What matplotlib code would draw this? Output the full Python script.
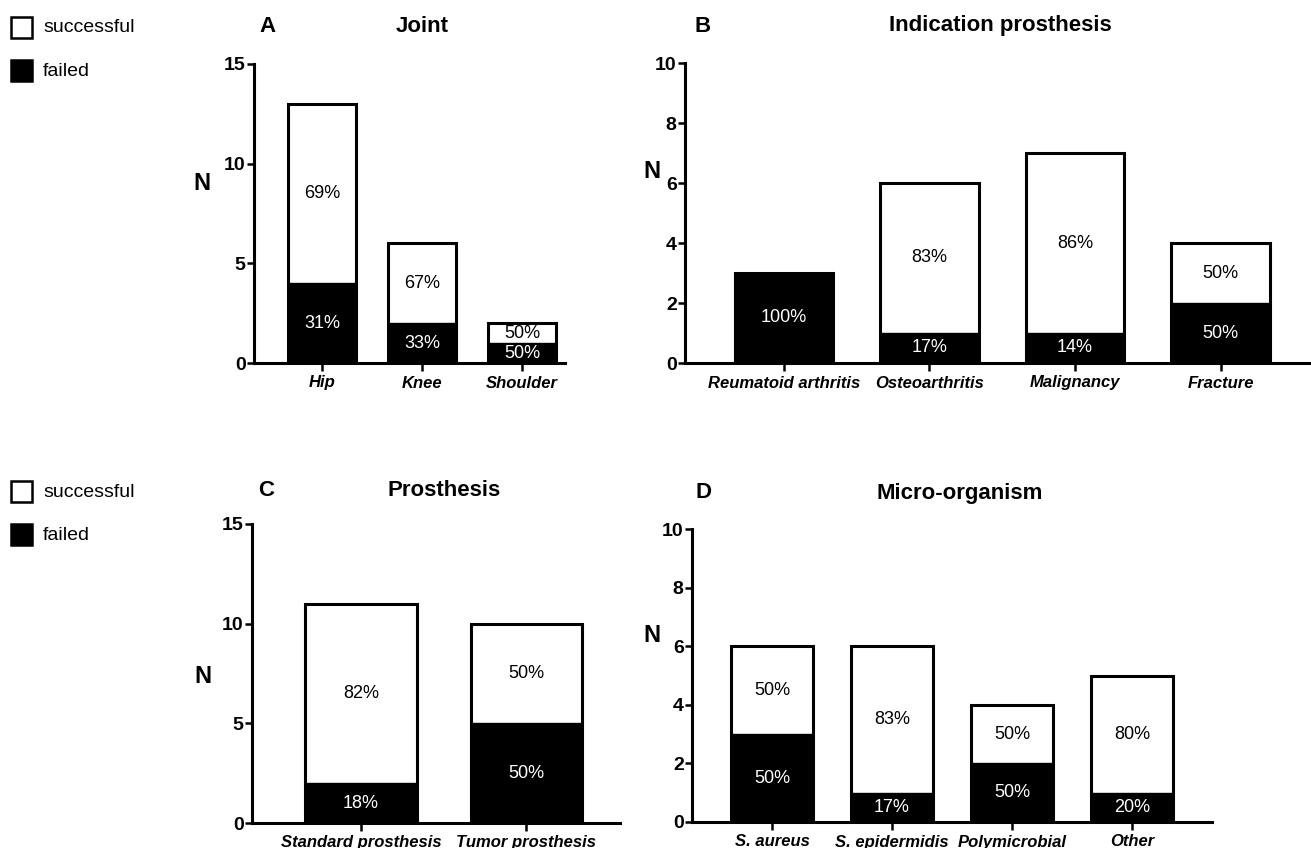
import matplotlib
matplotlib.use("Agg")
import matplotlib.pyplot as plt
from matplotlib.patches import Rectangle

plt.rcParams['font.family'] = ['Liberation Sans', 'DejaVu Sans']

W, H = 1311, 848

# A - Joint
joint_cats = ['Hip', 'Knee', 'Shoulder']
joint_total = [13, 6, 2]
joint_failed = [4, 2, 1]
joint_succ_pct = ['69%', '67%', '50%']
joint_fail_pct = ['31%', '33%', '50%']

# B - Indication prosthesis
ind_cats = ['Reumatoid arthritis', 'Osteoarthritis', 'Malignancy', 'Fracture']
ind_total = [3, 6, 7, 4]
ind_failed = [3, 1, 1, 2]
ind_succ_pct = ['', '83%', '86%', '50%']
ind_fail_pct = ['100%', '17%', '14%', '50%']

# C - Prosthesis
pros_cats = ['Standard prosthesis', 'Tumor prosthesis']
pros_total = [11, 10]
pros_failed = [2, 5]
pros_succ_pct = ['82%', '50%']
pros_fail_pct = ['18%', '50%']

# D - Micro-organism
micro_cats = ['S. aureus', 'S. epidermidis', 'Polymicrobial', 'Other']
micro_total = [6, 6, 4, 5]
micro_failed = [3, 1, 2, 1]
micro_succ_pct = ['50%', '83%', '50%', '80%']
micro_fail_pct = ['50%', '17%', '50%', '20%']


def px_axes(fig, x0, x1, y0, y1):
    # pixel box -> figure fraction
    return fig.add_axes([x0 / W, 1 - y1 / H, (x1 - x0) / W, (y1 - y0) / H])


def panel(ax, cats, total, failed, succ_pct, fail_pct, ymax, ystep, xlim, width, nxy):
    x = list(range(len(cats)))
    ax.bar(x, total, width=width, color='white', edgecolor='black', linewidth=2.2, zorder=2)
    ax.bar(x, failed, width=width, color='black', edgecolor='black', linewidth=1.0, zorder=3)
    for i in x:
        if succ_pct[i]:
            ax.text(i, (total[i] + failed[i]) / 2, succ_pct[i], ha='center', va='center',
                    fontsize=13, color='black', zorder=4)
        if fail_pct[i]:
            ax.text(i, failed[i] / 2, fail_pct[i], ha='center', va='center',
                    fontsize=13, color='white', zorder=4)
    ax.set_xlim(*xlim)
    ax.set_ylim(0, ymax)
    ax.set_yticks(range(0, ymax + 1, ystep))
    ax.set_xticks(x)
    ax.set_xticklabels(cats, fontsize=12, fontweight='bold', fontstyle='italic')
    for lab in ax.get_yticklabels():
        lab.set_fontsize(14)
        lab.set_fontweight('bold')
    ax.spines['top'].set_visible(False)
    ax.spines['right'].set_visible(False)
    ax.spines['left'].set_linewidth(2.2)
    ax.spines['bottom'].set_linewidth(2.2)
    ax.tick_params(axis='y', direction='out', length=5, width=1.8, pad=1)
    ax.tick_params(axis='x', direction='out', length=6, width=1.8, pad=3)
    ax.set_ylabel('N', rotation=0, fontsize=17, fontweight='bold', ha='center', va='center')
    ax.yaxis.set_label_coords(*nxy)


fig = plt.figure(figsize=(W / 100, H / 100), dpi=100)

axA = px_axes(fig, 254, 565, 64, 363)
panel(axA, joint_cats, joint_total, joint_failed, joint_succ_pct, joint_fail_pct,
      15, 5, (-0.68, 2.43), 0.68, (-0.167, 0.60))

axB = px_axes(fig, 685, 1310, 63, 363)
panel(axB, ind_cats, ind_total, ind_failed, ind_succ_pct, ind_fail_pct,
      10, 2, (-0.68, 3.615), 0.674, (-0.053, 0.637))

axC = px_axes(fig, 252, 620, 524, 823)
panel(axC, pros_cats, pros_total, pros_failed, pros_succ_pct, pros_fail_pct,
      15, 5, (-0.66, 1.567), 0.673, (-0.133, 0.49))

axD = px_axes(fig, 692, 1212, 529, 822)
panel(axD, micro_cats, micro_total, micro_failed, micro_succ_pct, micro_fail_pct,
      10, 2, (-0.667, 3.667), 0.683, (-0.077, 0.638))


def ftext(x, y, s, **kw):
    fig.text(x / W, 1 - y / H, s, ha='center', va='center', fontweight='bold', **kw)


ftext(268, 26, 'A', fontsize=16)
ftext(422, 26, 'Joint', fontsize=16)
ftext(703, 26, 'B', fontsize=16)
ftext(1000, 26, 'Indication prosthesis', fontsize=16)
ftext(266, 491, 'C', fontsize=16)
ftext(444, 491, 'Prosthesis', fontsize=16)
ftext(703, 493, 'D', fontsize=16)
ftext(960, 493, 'Micro-organism', fontsize=16)


def legend_block(top):
    for k, (lab, col) in enumerate([('successful', 'white'), ('failed', 'black')]):
        y = top + k * 43
        fig.patches.append(Rectangle((11 / W, 1 - (y + 21) / H), 21 / W, 21 / H,
                                     facecolor=col, edgecolor='black', linewidth=1.8,
                                     transform=fig.transFigure, figure=fig))
        fig.text(43 / W, 1 - (y + 11) / H, lab, ha='left', va='center', fontsize=14)


legend_block(17)
legend_block(481)

fig.savefig('out.png', dpi=100)
